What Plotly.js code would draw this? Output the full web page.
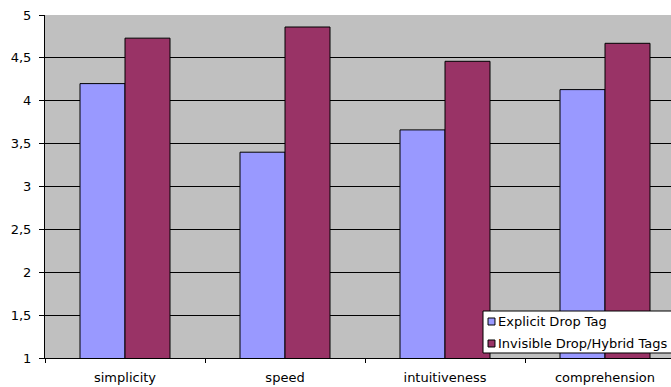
<!DOCTYPE html>
<html>
<head>
<meta charset="utf-8">
<script src="https://cdn.plot.ly/plotly-3.0.1.min.js"></script>
<style>html,body{margin:0;padding:0;background:#fff;overflow:hidden}</style>
</head>
<body>
<div id="chart" style="width:671px;height:387px"></div>
<script>
const categories = ["simplicity", "speed", "intuitiveness", "comprehension"];
const explicitDrop = [4.20, 3.40, 3.66, 4.13];
const invisibleDrop = [4.73, 4.86, 4.46, 4.67];
const seriesNames = ["Explicit Drop Tag", "Invisible Drop/Hybrid Tags"];
const seriesColors = ["#9999FF", "#993366"];

const font = {family: "DejaVu Sans, Verdana, sans-serif", size: 13, color: "#000"};

const traces = [
  {type: "bar", x: categories, y: explicitDrop, name: seriesNames[0],
   marker: {color: seriesColors[0], line: {color: "#000", width: 1}}},
  {type: "bar", x: categories, y: invisibleDrop, name: seriesNames[1],
   marker: {color: seriesColors[1], line: {color: "#000", width: 1}}}
];

// Manual legend (box, swatches, labels) placed in paper coordinates
const legendShapes = [
  {type: "rect", xref: "paper", yref: "paper", layer: "above",
   x0: 0.6997, x1: 1.06, y0: 0.0146, y1: 0.137,
   fillcolor: "#fff", line: {color: "#000", width: 1}}
];
const legendAnnotations = [];
const rowY = [0.1064, 0.0423];
seriesNames.forEach((name, i) => {
  legendShapes.push({type: "rect", xref: "paper", yref: "paper", layer: "above",
    x0: 0.7077, x1: 0.7188, y0: rowY[i] - 0.0102, y1: rowY[i] + 0.0102,
    fillcolor: seriesColors[i], line: {color: "#000", width: 1}});
  legendAnnotations.push({xref: "paper", yref: "paper", x: 0.7205, y: rowY[i],
    xanchor: "left", yanchor: "middle", showarrow: false, text: name, font: font});
});

const layout = {
  width: 671, height: 387,
  margin: {l: 45, r: 0, t: 15, b: 29, pad: 0},
  paper_bgcolor: "#fff",
  plot_bgcolor: "#C0C0C0",
  separators: ", ",
  font: font,
  barmode: "group",
  bargap: 0.4375,
  bargroupgap: 0,
  showlegend: false,
  shapes: legendShapes,
  annotations: legendAnnotations,
  xaxis: {
    type: "category",
    range: [-0.5, 3.4125],
    tickson: "boundaries",
    ticks: "outside", ticklen: 4, tickcolor: "#000",
    ticklabelstandoff: 7,
    showline: true, linecolor: "#000", linewidth: 1,
    showgrid: false, zeroline: false,
    tickfont: font
  },
  yaxis: {
    range: [1, 5], dtick: 0.5, tick0: 1,
    ticks: "outside", ticklen: 5, tickcolor: "#000",
    ticklabelstandoff: 5,
    showline: true, linecolor: "#000", linewidth: 1,
    showgrid: true, gridcolor: "#000", gridwidth: 1,
    zeroline: false,
    tickfont: font
  }
};

Plotly.newPlot("chart", traces, layout, {displayModeBar: false, staticPlot: true});
</script>
</body>
</html>
